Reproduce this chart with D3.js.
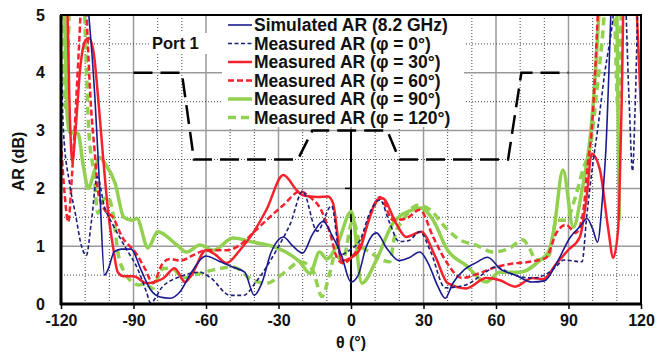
<!DOCTYPE html>
<html>
<head>
<meta charset="utf-8">
<script src="https://cdn.jsdelivr.net/npm/d3@7"></script>
<style>
  body { margin: 0; background: #fff; }
  svg { display: block; font-family: "Liberation Sans", Arial, sans-serif; }
</style>
</head>
<body>
<svg id="chart" width="666" height="353"></svg>
<script>
// AR vs theta, Port 1

const xTicks = [-120, -90, -60, -30, 0, 30, 60, 90, 120];
const yTicks = [0, 1, 2, 3, 4, 5];

const simulated = [
  [-120, 6], [-114, 6.5], [-108.5, 5.0], [-106, 3.6], [-104, 2.0], [-102, 0.5], [-100.5, 0.6],
  [-98, 0.9], [-95, 0.95], [-91, 0.95], [-87, 0.6], [-83, 0.25], [-79, 0.12], [-75, 0.1],
  [-71, 0.2], [-66, 0.55], [-60, 0.83], [-55, 0.75], [-49, 0.64], [-44, 0.55], [-40, 0.15],
  [-37, 0.35], [-33, 0.9], [-28, 1.16], [-24, 1.0], [-20, 0.88], [-16, 1.2], [-11.5, 1.43],
  [-8, 1.2], [-4, 0.85], [0, 0.38], [3, 0.5], [6, 0.95], [10.5, 1.23], [15, 0.95], [20, 0.75],
  [24, 0.8], [28.5, 0.9], [32, 0.7], [36, 0.3], [39, 0.1], [42, 0.35], [47, 0.6], [52, 0.72],
  [56.5, 0.81], [62, 0.6], [68, 0.5], [75, 0.38], [80, 0.4], [85, 0.7], [90.8, 1.16], [95, 1.35],
  [97.6, 1.48], [100, 1.3], [102, 1.07], [104, 1.8], [105.5, 2.7], [107.5, 5.0], [109, 7]
];

const phi0 = [
  [-120, 4.5], [-119, 3.0], [-116.5, 2.1], [-114, 1.55], [-111.5, 1.0], [-109.5, 0.84],
  [-107.5, 1.4], [-105, 2.2], [-102, 1.68], [-98.5, 1.37], [-93.5, 0.99], [-88, 0.58],
  [-84.5, 0.19], [-83, 0.02], [-78, 0.3], [-71, 0.47], [-62.5, 0.55], [-58, 0.45], [-50, 0.15],
  [-44.5, 0.15], [-39, 0.4], [-30.6, 0.95], [-25, 1.4], [-20, 1.95], [-14, 1.26], [-8, 1.7],
  [-4.5, 0.85], [0, 0.95], [3.7, 1.1], [8, 1.6], [12, 1.8], [16, 1.4], [20, 1.08], [24, 1.1],
  [28.5, 1.25], [33, 0.9], [39, 0.28], [47.5, 0.33], [54, 0.5], [60, 0.64], [65, 0.55],
  [70, 0.47], [75, 0.45], [80, 0.5], [85, 0.65], [88, 0.76], [95.6, 0.73], [97.5, 1.5],
  [100, 2.4], [102, 3.0], [105, 4.0], [108, 4.8], [110, 5.5], [113, 5.6], [115, 3.6],
  [116.5, 2.3], [117.5, 3.3], [119, 5.5], [120, 6]
];

const phi30 = [
  [-120, 6], [-117.5, 5.2], [-116.3, 3.2], [-115.3, 2.45], [-114, 3.0], [-112, 4.1], [-110, 4.55],
  [-108.5, 4.6], [-106.5, 4.35], [-104.5, 3.5], [-102.5, 2.5], [-100.5, 1.6], [-98.5, 1.0],
  [-96.5, 0.55], [-94, 0.48], [-90, 0.48], [-84.5, 0.36], [-80, 0.4], [-77.5, 0.45], [-73, 0.62],
  [-68.7, 0.38], [-66, 0.5], [-60, 0.93], [-56, 0.85], [-51.5, 0.71], [-46, 0.93], [-40.5, 1.23],
  [-35, 1.63], [-28, 2.23], [-22.5, 1.97], [-20, 1.88], [-14, 1.85], [-9.5, 1.86], [-7.4, 1.74],
  [-3.8, 0.75], [0, 0.8], [3.7, 0.95], [7, 1.4], [10.7, 1.8], [13, 1.83], [18.6, 1.4],
  [22.8, 1.16], [29, 1.25], [35, 0.81], [40, 0.36], [47.6, 0.27], [56, 0.45], [61.6, 0.41],
  [68, 0.3], [75, 0.45], [79.5, 0.43], [85, 0.7], [89.8, 0.93], [94.7, 1.16], [97.5, 1.85],
  [99.6, 2.6], [103, 2.32], [106.5, 1.28], [108.5, 0.8], [110.5, 1.28], [112, 3.5], [113, 5.5],
  [117, 5.5], [120, 3.3]
];

const phi60 = [
  [-120, 2.8], [-118.5, 1.9], [-117, 1.42], [-115.5, 2.2], [-114, 3.3], [-112.5, 4.5],
  [-111.5, 5.3], [-110, 5.5], [-109, 4.6], [-108, 3.7], [-106, 2.6], [-104.5, 1.9],
  [-101.8, 1.62], [-98.5, 1.5], [-94.7, 1.16], [-89, 0.88], [-85, 0.59], [-82, 0.36], [-78, 0.7],
  [-75, 0.78], [-70.7, 0.75], [-65, 0.85], [-60, 0.93], [-51.5, 0.93], [-46, 1.02], [-40.5, 1.23],
  [-35, 1.45], [-28, 1.71], [-21, 1.95], [-17, 1.85], [-12.8, 1.66], [-8.7, 1.23], [-5.8, 0.8],
  [-3, 0.7], [0, 0.8], [3, 0.97], [9, 1.63], [12, 1.85], [17.4, 1.45], [22.8, 1.48], [28.5, 1.63],
  [34, 1.16], [39, 0.76], [46, 0.45], [53, 0.53], [60, 0.64], [67, 0.7], [74, 0.73], [80.7, 0.8],
  [85, 1.23], [89, 1.37], [93, 1.23], [96, 1.57], [98, 2.43], [99.6, 3.0], [101, 4.0],
  [102.5, 5.3], [104, 6]
];

const phi90 = [
  [-120, 6], [-118.5, 5.0], [-117.5, 3.3], [-116.5, 2.97], [-113, 2.95], [-110.8, 2.4],
  [-108.7, 2.0], [-106.5, 2.25], [-104, 2.54], [-101.8, 2.43], [-97.6, 2.09], [-94, 1.5],
  [-90.6, 1.45], [-88.6, 1.48], [-84, 0.97], [-80, 1.25], [-72, 1.02], [-68, 0.9], [-62.5, 1.02],
  [-57, 0.93], [-48.8, 1.14], [-40.5, 1.07], [-30.6, 0.97], [-25, 0.85], [-21, 0.72], [-17, 0.53],
  [-13, 0.9], [-10, 0.78], [-6, 1.0], [0.2, 1.6], [4.5, 0.36], [10.5, 0.76], [17.4, 1.4],
  [25.6, 1.63], [29, 1.66], [34, 1.45], [40, 0.93], [47.6, 0.67], [56, 0.38], [61.6, 0.55],
  [70, 0.55], [78, 0.75], [82, 0.93], [84, 1.3], [87.7, 2.32], [92, 1.33], [95.6, 1.97],
  [99, 2.89], [101, 3.9], [103, 5.2], [108, 6], [110, 5.2], [111, 1.45]
];

const phi120 = [
  [-120, 5.5], [-119, 4.2], [-118.3, 3.4], [-117.3, 4.2], [-116, 5.5], [-111, 5.8], [-109.8, 4.5],
  [-108.5, 3.0], [-106.5, 2.3], [-104.7, 1.57], [-102.5, 1.8], [-100.6, 1.85], [-98.5, 1.57],
  [-96.4, 0.88], [-93.5, 0.53], [-90.6, 0.38], [-88, 0.33], [-85, 0.34], [-82, 0.27], [-79, 0.55],
  [-77.6, 0.62], [-73.5, 0.6], [-69.4, 0.45], [-62.5, 0.53], [-57, 0.59], [-48.8, 0.64],
  [-40.5, 0.41], [-35, 0.36], [-28, 0.53], [-21, 0.73], [-16, 0.6], [-12, 0.13], [-8.7, 0.55],
  [-6.6, 0.85], [-3.5, 0.75], [0.8, 1.45], [4, 1.0], [7.8, 0.9], [13, 0.76], [16, 0.73], [18, 1.16],
  [21.5, 1.45], [27.7, 1.71], [32.7, 1.63], [39, 1.33], [45, 1.11], [51.8, 1.02], [58.7, 0.9],
  [65.8, 0.97], [71, 1.11], [74, 0.95], [76.5, 0.76], [79.5, 0.78], [82, 0.85], [85, 1.45],
  [89, 1.45], [92.7, 1.83], [95.6, 2.27], [99.6, 2.89], [102, 3.8], [104, 4.6], [106, 5.5],
  [108.5, 5.5], [110.5, 3.35], [112, 5.5]
];

// port 1 pattern sketch (black dashed) and the marker at 0
const port1 = [[-90, 4], [-70, 4], [-65, 2.5], [-22, 2.5], [-16, 3], [15, 3], [20, 2.5], [65, 2.5], [70.5, 4], [90, 4]];
const marker = [[0, 0], [0, 3]];

const series = [
  { name: 'Measured AR (φ = 120°)', data: phi120, color: '#92d050', width: 3.5, dash: '8,5' },
  { name: 'Measured AR (φ = 90°)', data: phi90, color: '#92d050', width: 3.5, dash: null },
  { name: 'Measured AR (φ = 60°)', data: phi60, color: '#f5222d', width: 2.5, dash: '6,3' },
  { name: 'Measured AR (φ = 30°)', data: phi30, color: '#f5222d', width: 2.5, dash: null },
  { name: 'Measured AR (φ = 0°)', data: phi0, color: '#1a1f7a', width: 1.6, dash: '4,2.5' },
  { name: 'Simulated AR (8.2 GHz)', data: simulated, color: '#1a1a8f', width: 1.6, dash: null }
];

const W = 666, H = 353;
const m = { left: 61, right: 25, top: 15, bottom: 49 };
const svg = d3.select('#chart');

const x = d3.scaleLinear().domain([-120, 120]).range([m.left, W - m.right]);
const y = d3.scaleLinear().domain([0, 5]).range([H - m.bottom, m.top]);

svg.append('clipPath').attr('id', 'plot')
  .append('rect')
  .attr('x', x(-120)).attr('y', y(5))
  .attr('width', x(120) - x(-120)).attr('height', y(0) - y(5));

// --- grid ---
const grid = svg.append('g');
d3.range(-110, 120, 10).forEach(v => {
  const major = v % 30 === 0;
  grid.append('line')
    .attr('x1', x(v)).attr('x2', x(v)).attr('y1', y(0)).attr('y2', y(5))
    .attr('stroke', major ? '#9a9a9a' : '#333')
    .attr('stroke-width', major ? 1.5 : 0.9)
    .attr('stroke-dasharray', major ? null : '1,2');
});
d3.range(0.5, 5, 0.5).forEach(v => {
  const major = Number.isInteger(v);
  grid.append('line')
    .attr('x1', x(-120)).attr('x2', x(120)).attr('y1', y(v)).attr('y2', y(v))
    .attr('stroke', major ? '#9a9a9a' : '#333')
    .attr('stroke-width', major ? 1.5 : 0.9)
    .attr('stroke-dasharray', major ? null : '1,2');
});

// --- legend & label boxes (white, over grid) ---
svg.append('rect').attr('x', 222).attr('y', 16).attr('width', 242).attr('height', 111).attr('fill', '#fff');
svg.append('rect').attr('x', 149).attr('y', 33).attr('width', 78).attr('height', 21).attr('fill', '#fff');

// --- port pattern ---
const line = d3.line().x(d => x(d[0])).y(d => y(d[1]));
svg.append('path').datum(port1)
  .attr('d', line)
  .attr('fill', 'none').attr('stroke', '#000').attr('stroke-width', 2.5)
  .attr('stroke-dasharray', '19,8');
svg.append('path').datum(marker)
  .attr('d', line)
  .attr('fill', 'none').attr('stroke', '#000').attr('stroke-width', 2);
svg.append('line')
  .attr('x1', x(0) - 6).attr('x2', x(0)).attr('y1', y(2)).attr('y2', y(2))
  .attr('stroke', '#000').attr('stroke-width', 1.5);

// --- curves ---
const curve = d3.line().x(d => x(d[0])).y(d => y(d[1])).curve(d3.curveMonotoneX);
const plot = svg.append('g').attr('clip-path', 'url(#plot)');
series.forEach(s => {
  plot.append('path').datum(s.data)
    .attr('d', curve)
    .attr('fill', 'none')
    .attr('stroke', s.color)
    .attr('stroke-width', s.width)
    .attr('stroke-dasharray', s.dash)
    .attr('stroke-linejoin', 'round');
});

// --- frame & axes ---
svg.append('rect')
  .attr('x', x(-120)).attr('y', y(5))
  .attr('width', x(120) - x(-120)).attr('height', y(0) - y(5))
  .attr('fill', 'none').attr('stroke', '#000').attr('stroke-width', 2);
svg.append('line').attr('x1', x(-120)).attr('x2', x(-120)).attr('y1', y(0) + 1).attr('y2', y(5))
  .attr('stroke', '#000').attr('stroke-width', 3);
svg.append('line').attr('x1', x(-120) - 1).attr('x2', x(120) + 1).attr('y1', y(0)).attr('y2', y(0))
  .attr('stroke', '#000').attr('stroke-width', 3);

const xAxis = svg.append('g').attr('transform', `translate(0,${y(0)})`)
  .call(d3.axisBottom(x).tickValues(xTicks).tickSize(5).tickPadding(6).tickFormat(d => String(d)));
xAxis.select('.domain').remove();
xAxis.selectAll('line').attr('stroke', '#000').attr('stroke-width', 1.5);
xAxis.selectAll('text').attr('font-size', 16).attr('font-weight', 'bold').attr('fill', '#111');

const yAxis = svg.append('g').attr('transform', `translate(${x(-120)},0)`)
  .call(d3.axisLeft(y).tickValues(yTicks).tickSize(0).tickPadding(16).tickFormat(d => String(d)));
yAxis.select('.domain').remove();
yAxis.selectAll('text').attr('font-size', 16).attr('font-weight', 'bold').attr('fill', '#111');

svg.append('text')
  .attr('x', x(0)).attr('y', 348)
  .attr('text-anchor', 'middle')
  .attr('font-size', 16).attr('font-weight', 'bold').attr('fill', '#111')
  .text('θ (°)');
svg.append('text')
  .attr('transform', `translate(24,${(y(0) + y(5)) / 2 + 2}) rotate(-90)`)
  .attr('text-anchor', 'middle')
  .attr('font-size', 16).attr('font-weight', 'bold').attr('fill', '#111')
  .text('AR (dB)');

svg.append('text')
  .attr('x', 152).attr('y', 49)
  .attr('font-size', 16.5).attr('font-weight', 'bold').attr('fill', '#111')
  .text('Port 1');

// --- legend ---
const legendOrder = series.slice().reverse();
const lg = svg.append('g');
legendOrder.forEach((s, i) => {
  const cy = 25 + i * 18.5;
  lg.append('line')
    .attr('x1', 228).attr('x2', 252).attr('y1', cy).attr('y2', cy)
    .attr('stroke', s.color).attr('stroke-width', s.width)
    .attr('stroke-dasharray', s.dash);
  lg.append('text')
    .attr('x', 254).attr('y', cy + 6)
    .attr('font-size', 17.5).attr('font-weight', 'bold').attr('fill', '#111')
    .text(s.name);
});
</script>
</body>
</html>
